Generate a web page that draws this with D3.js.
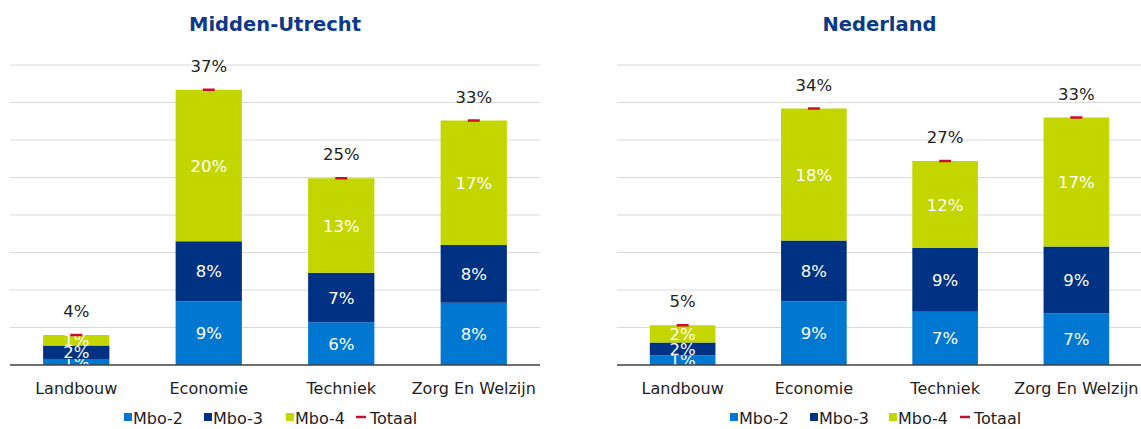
<!DOCTYPE html>
<html>
<head>
<meta charset="utf-8">
<script src="https://cdn.jsdelivr.net/npm/d3@7"></script>
<style>
  body { margin: 0; background: #fff; }
  svg { font-family: "DejaVu Sans", Verdana, sans-serif; }
</style>
</head>
<body>
<div id="container"></div>
<script>
var categories = ["Landbouw", "Economie", "Techniek", "Zorg En Welzijn"]
var seriesNames = ["Mbo-2", "Mbo-3", "Mbo-4"]
var colours = ["#0078d2", "#003283", "#c3d600"]
var yTicks = [0, 5, 10, 15, 20, 25, 30, 35, 40]

// Midden-Utrecht
var muMbo2 = [0.8, 8.5, 5.7, 8.3]
var muMbo3 = [1.8, 8.0, 6.6, 7.7]
var muMbo4 = [1.4, 20.2, 12.6, 16.6]

// Nederland
var nlMbo2 = [1.3, 8.5, 7.1, 6.9]
var nlMbo3 = [1.7, 8.1, 8.5, 8.9]
var nlMbo4 = [2.3, 17.6, 11.6, 17.2]

var svg = d3.select("#container").append("svg")
    .attr("width", 1141)
    .attr("height", 429)

panel(svg, "Midden-Utrecht", [muMbo2, muMbo3, muMbo4], 10, 540, 124, [0, 80, 162, 232])
panel(svg, "Nederland", [nlMbo2, nlMbo3, nlMbo4], 617, 1142, 730, [0, 80, 159, 230])

function panel(svg, title, series, x0, x1, legendX, offsets) {
  var g = svg.append("g")
  var top = 65, bottom = 365

  var x = d3.scaleBand().domain(categories).range([x0, x1]).paddingInner(0.5).paddingOuter(0.25)
  var y = d3.scaleLinear().domain([0, 40]).range([bottom, top])

  g.append("text")
      .attr("x", (x0 + x1) / 2)
      .attr("y", 31)
      .attr("text-anchor", "middle")
      .attr("font-size", "19.5px")
      .attr("font-weight", "bold")
      .attr("fill", "#0c3a87")
      .text(title)

  g.selectAll(".grid").data(yTicks.slice(1)).enter().append("line")
      .attr("x1", x0).attr("x2", x1)
      .attr("y1", function(d) { return y(d) }).attr("y2", function(d) { return y(d) })
      .attr("stroke", "#d9d9d9")
      .attr("stroke-width", 1.2)

  var rows = categories.map(function(c, i) {
    var r = { cat: c }
    seriesNames.forEach(function(s, j) { r[s] = series[j][i] })
    return r
  })
  var stacked = d3.stack().keys(seriesNames)(rows)

  stacked.forEach(function(layer, j) {
    var lg = g.append("g")
    lg.selectAll("rect").data(layer).enter().append("rect")
        .attr("x", function(d) { return x(d.data.cat) })
        .attr("width", x.bandwidth())
        .attr("y", function(d) { return y(d[1]) })
        .attr("height", function(d) { return y(d[0]) - y(d[1]) })
        .attr("fill", colours[j])

    lg.selectAll("text").data(layer).enter().append("text")
        .attr("x", function(d) { return x(d.data.cat) + x.bandwidth() / 2 })
        .attr("y", function(d) { return (y(d[0]) + y(d[1])) / 2 + 6 })
        .attr("text-anchor", "middle")
        .attr("font-size", "16.5px")
        .attr("fill", "#fff")
        .text(function(d) { return Math.round(d[1] - d[0]) + "%" })
  })

  var totals = rows.map(function(r) { return { cat: r.cat, v: d3.sum(seriesNames, function(s) { return r[s] }) } })

  g.selectAll(".tot").data(totals).enter().append("line")
      .attr("x1", function(d) { return x(d.cat) + x.bandwidth() / 2 - 6 })
      .attr("x2", function(d) { return x(d.cat) + x.bandwidth() / 2 + 6 })
      .attr("y1", function(d) { return y(d.v) })
      .attr("y2", function(d) { return y(d.v) })
      .attr("stroke", "#c8102e")
      .attr("stroke-width", 2.5)

  g.selectAll(".totlabel").data(totals).enter().append("text")
      .attr("x", function(d) { return x(d.cat) + x.bandwidth() / 2 })
      .attr("y", function(d) { return y(d.v) - 18 })
      .attr("text-anchor", "middle")
      .attr("font-size", "16.5px")
      .attr("fill", "#222")
      .text(function(d) { return Math.round(d.v) + "%" })

  g.append("line")
      .attr("x1", x0).attr("x2", x1)
      .attr("y1", bottom).attr("y2", bottom)
      .attr("stroke", "#404040")
      .attr("stroke-width", 1.5)

  var xAxis = g.append("g")
      .attr("transform", "translate(0," + bottom + ")")
      .call(d3.axisBottom(x).tickSize(0).tickPadding(17.5))
  xAxis.select(".domain").remove()
  xAxis.selectAll("text")
      .attr("font-size", "16px")
      .attr("font-family", "DejaVu Sans, Verdana, sans-serif")
      .attr("fill", "#222")

  // legend
  var legend = g.append("g").attr("transform", "translate(" + legendX + ",424)")
  seriesNames.forEach(function(s, j) {
    legend.append("rect")
        .attr("x", offsets[j]).attr("y", -11)
        .attr("width", 8).attr("height", 8)
        .attr("fill", colours[j])
    legend.append("text")
        .attr("x", offsets[j] + 9).attr("y", 0)
        .attr("font-size", "16px")
        .attr("fill", "#222")
        .text(s)
  })
  legend.append("line")
      .attr("x1", offsets[3]).attr("x2", offsets[3] + 10)
      .attr("y1", -7).attr("y2", -7)
      .attr("stroke", "#c8102e").attr("stroke-width", 2.5)
  legend.append("text")
      .attr("x", offsets[3] + 14).attr("y", 0)
      .attr("font-size", "16px")
      .attr("fill", "#222")
      .text("Totaal")
}
</script>
</body>
</html>
